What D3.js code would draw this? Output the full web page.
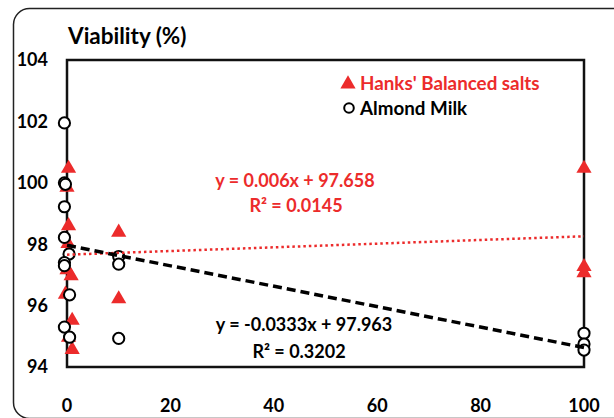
<!DOCTYPE html>
<html>
<head>
<meta charset="utf-8">
<script src="https://cdn.jsdelivr.net/npm/d3@7"></script>
<style>
  body { margin: 0; background: #fff; }
  svg text { font-family: Lato, "Open Sans", sans-serif; font-weight: 700; }
</style>
</head>
<body>
<svg id="chart" width="614" height="418"></svg>
<script>
// Hanks' Balanced salts (red triangles)
const hanksX = [0.3, 0.0, 0.3, 0.2, 0.0, 0.8, -0.3, 1.0, 0.3, 1.0, 10, 10, 100, 100, 100];
const hanksY = [100.5, 99.88, 98.63, 98.05, 97.2, 97.0, 96.4, 95.55, 95.0, 94.6, 98.42, 96.25, 100.5, 97.3, 97.1];

// Almond Milk (open circles)
const almondX = [-0.5, -0.5, -0.3, -0.5, -0.5, 0.4, -0.5, -0.5, 0.5, -0.5, 0.5, 10, 10, 10, 100, 100, 100];
const almondY = [101.95, 100.0, 99.95, 99.22, 98.22, 97.68, 97.4, 97.3, 96.35, 95.3, 94.97, 97.6, 97.35, 94.93, 95.1, 94.75, 94.55];

// trendline coefficients [slope, intercept]
const hanksFit = [0.006, 97.658];
const almondFit = [-0.0333, 97.963];

const xTicks = [0, 20, 40, 60, 80, 100];
const yTicks = [94, 96, 98, 100, 102, 104];

const red = "#ec2b2b";
const svg = d3.select("#chart");

// outer rounded frame
svg.append("rect")
    .attr("x", 13.5).attr("y", 8.5)
    .attr("width", 620).attr("height", 410)
    .attr("rx", 16)
    .attr("fill", "none")
    .attr("stroke", "#222")
    .attr("stroke-width", 1.5);

const plotLeft = 67, plotRight = 584, plotTop = 60, plotBottom = 367;

const x = d3.scaleLinear().domain([0, 100]).range([plotLeft, plotRight]);
const y = d3.scaleLinear().domain([94, 104]).range([plotBottom, plotTop]);

// plot frame
svg.append("rect")
    .attr("x", plotLeft).attr("y", plotTop)
    .attr("width", plotRight - plotLeft).attr("height", plotBottom - plotTop)
    .attr("fill", "none")
    .attr("stroke", "#111")
    .attr("stroke-width", 2.5);

// y axis labels
svg.append("g").selectAll("text")
    .data(yTicks)
    .join("text")
    .attr("x", 48)
    .attr("y", d => y(d))
    .attr("dy", "0.36em")
    .attr("text-anchor", "end")
    .attr("font-size", 18)
    .text(d => d);

// x axis labels
svg.append("g").selectAll("text")
    .data(xTicks)
    .join("text")
    .attr("x", d => x(d))
    .attr("y", 406)
    .attr("dy", "0.36em")
    .attr("text-anchor", "middle")
    .attr("font-size", 18)
    .text(d => d);

svg.append("text")
    .attr("x", 68).attr("y", 44)
    .attr("font-size", 22.5)
    .text("Viability (%)");

const triangle = d3.symbol().type(d3.symbolTriangle).size(100);

// hanks markers
svg.append("g").selectAll("path")
    .data(hanksX.map((d, i) => [d, hanksY[i]]))
    .join("path")
    .attr("d", triangle)
    .attr("transform", d => `translate(${x(d[0])},${y(d[1]) + 1})`)
    .attr("fill", red);

// almond markers
svg.append("g").selectAll("circle")
    .data(almondX.map((d, i) => [d, almondY[i]]))
    .join("circle")
    .attr("cx", d => x(d[0]))
    .attr("cy", d => y(d[1]))
    .attr("r", 5.6)
    .attr("fill", "#fff")
    .attr("stroke", "#000")
    .attr("stroke-width", 2);

// trendlines
svg.append("line")
    .attr("x1", x(0)).attr("y1", y(hanksFit[1]))
    .attr("x2", x(100)).attr("y2", y(hanksFit[0] * 100 + hanksFit[1]))
    .attr("stroke", red)
    .attr("stroke-width", 2.5)
    .attr("stroke-dasharray", "2.5,3");

svg.append("line")
    .attr("x1", x(0)).attr("y1", y(almondFit[1]))
    .attr("x2", x(100)).attr("y2", y(almondFit[0] * 100 + almondFit[1]))
    .attr("stroke", "#000")
    .attr("stroke-width", 3.5)
    .attr("stroke-dasharray", "9,5");

// legend
svg.append("path")
    .attr("d", triangle)
    .attr("transform", "translate(348,84)")
    .attr("fill", red);
svg.append("text")
    .attr("x", 360).attr("y", 83)
    .attr("dy", "0.36em")
    .attr("font-size", 18.8)
    .attr("fill", red)
    .text("Hanks' Balanced salts");
svg.append("circle")
    .attr("cx", 349).attr("cy", 108)
    .attr("r", 4.8)
    .attr("fill", "#fff")
    .attr("stroke", "#000")
    .attr("stroke-width", 2);
svg.append("text")
    .attr("x", 360).attr("y", 108)
    .attr("dy", "0.36em")
    .attr("font-size", 18.8)
    .text("Almond Milk");

// equations
svg.append("text")
    .attr("x", 295).attr("y", 181)
    .attr("dy", "0.36em")
    .attr("text-anchor", "middle")
    .attr("font-size", 18)
    .attr("fill", red)
    .text(`y = ${hanksFit[0]}x + ${hanksFit[1]}`);
svg.append("text")
    .attr("x", 296).attr("y", 206)
    .attr("dy", "0.36em")
    .attr("text-anchor", "middle")
    .attr("font-size", 18)
    .attr("fill", red)
    .text("R² = 0.0145");
svg.append("text")
    .attr("x", 304).attr("y", 325)
    .attr("dy", "0.36em")
    .attr("text-anchor", "middle")
    .attr("font-size", 18)
    .text(`y = ${almondFit[0]}x + ${almondFit[1]}`);
svg.append("text")
    .attr("x", 299).attr("y", 352)
    .attr("dy", "0.36em")
    .attr("text-anchor", "middle")
    .attr("font-size", 18)
    .text("R² = 0.3202");
</script>
</body>
</html>
